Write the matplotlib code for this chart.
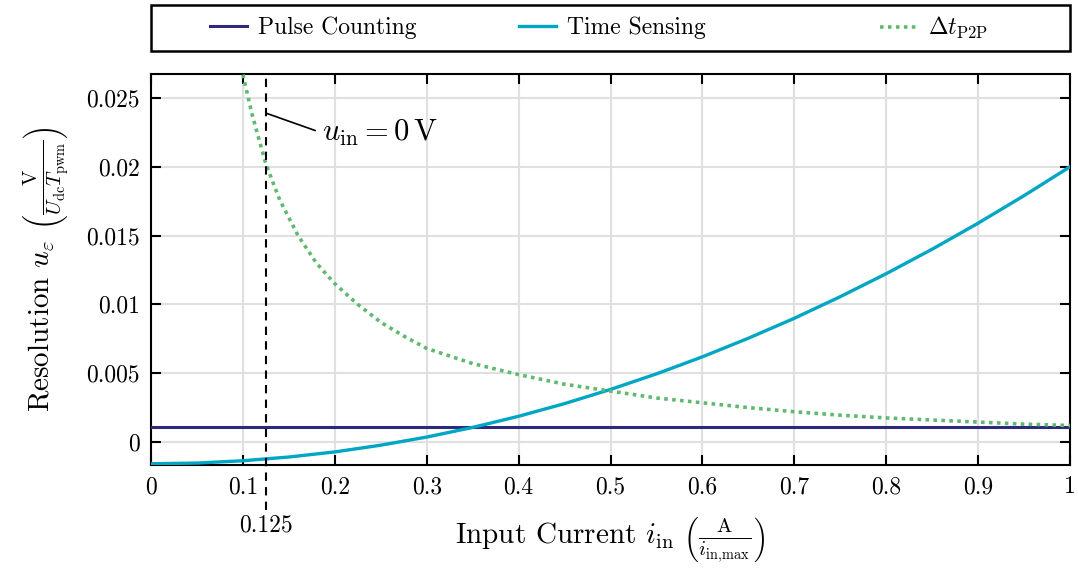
"""Resolution of pulse counting vs. time sensing over input current."""

import matplotlib

matplotlib.use("Agg")
import matplotlib.pyplot as plt
from matplotlib.lines import Line2D
from matplotlib.patches import Rectangle
from matplotlib.ticker import FuncFormatter, MultipleLocator

plt.rcParams["font.family"] = "serif"
plt.rcParams["font.serif"] = ["cmr10"]
plt.rcParams["mathtext.fontset"] = "cm"
plt.rcParams["axes.formatter.use_mathtext"] = True

# values
pulse_x = [0.0, 1.0]
pulse_y = [0.0011, 0.0011]

time_x = [0.0, 0.05, 0.1, 0.15, 0.2, 0.25, 0.3, 0.35, 0.4, 0.45, 0.5,
          0.55, 0.6, 0.65, 0.7, 0.75, 0.8, 0.85, 0.9, 0.95, 1.0]
time_y = [-0.00158, -0.00153, -0.00136, -0.00109, -0.00072, -0.00023,
          0.00036, 0.00106, 0.00187, 0.00279, 0.00382, 0.00495, 0.00619,
          0.00754, 0.00899, 0.01056, 0.01223, 0.01401, 0.01590, 0.01790,
          0.02000]

p2p_x = [0.1, 0.11, 0.125, 0.14, 0.16, 0.18, 0.2, 0.225, 0.25, 0.275, 0.3,
         0.35, 0.4, 0.45, 0.5, 0.55, 0.6, 0.65, 0.7, 0.75, 0.8, 0.85, 0.9,
         0.95, 1.0]
p2p_y = [0.0267, 0.0238, 0.0202, 0.0176, 0.0150, 0.0130, 0.0115, 0.0100,
         0.0087, 0.0077, 0.0068, 0.0057, 0.0049, 0.0042, 0.0037, 0.0032,
         0.00285, 0.0025, 0.0022, 0.00195, 0.00175, 0.0016, 0.00145, 0.0013,
         0.0012]

zero_voltage_x = 0.125

labels = ["Pulse Counting", "Time Sensing", r"$\Delta t_\mathrm{P2P}$"]
colors = ["#2d2a7c", "#00a6c4", "#5fba70"]
styles = ["-", "-", (0, (1, 1.2))]
widths = [2.2, 2.4, 2.6]
# left edge of each legend handle, in pixels
legend_px = [210, 519, 880]

W, H = 1078, 568
fig = plt.figure(figsize=(W / 100, H / 100), dpi=100)
ax = fig.add_axes([151 / W, 1 - 465 / H, 919 / W, 391 / H])

series = [(pulse_x, pulse_y), (time_x, time_y), (p2p_x, p2p_y)]
for (xs, ys), lab, c, ls, lw in zip(series, labels, colors, styles, widths):
    ax.plot(xs, ys, color=c, lw=lw, ls=ls, label=lab, zorder=3,
            solid_joinstyle="round")

ax.axvline(zero_voltage_x, ymin=-0.115, ymax=1, color="black", lw=1.5,
           ls=(0, (4, 3)), clip_on=False, zorder=4)
ax.text(zero_voltage_x, -0.155, "0.125", transform=ax.get_xaxis_transform(),
        ha="center", va="center", fontsize=17)
ax.annotate(r"$u_\mathrm{in} = 0\,\mathrm{V}$", xy=(zero_voltage_x, 0.0239),
            xytext=(0.186, 0.02246), ha="left", va="center", fontsize=22,
            arrowprops=dict(arrowstyle="-", color="black", lw=1.2,
                            shrinkA=3, shrinkB=0, relpos=(0, 0.5)))

ax.set_xlim(0, 1)
ax.set_ylim(-0.00167, 0.02674)
ax.xaxis.set_major_locator(MultipleLocator(0.1))
ax.yaxis.set_major_locator(MultipleLocator(0.005))
fmt = FuncFormatter(lambda v, _: f"{v:.3f}".rstrip("0").rstrip(".") if abs(v) > 1e-9 else "0")
ax.xaxis.set_major_formatter(fmt)
ax.yaxis.set_major_formatter(fmt)
ax.tick_params(direction="in", top=True, right=True, length=7, width=1.5,
               labelsize=17, pad=8)
for spine in ax.spines.values():
    spine.set_linewidth(1.5)
ax.grid(True, color="#e0e0e0", lw=1.5)
ax.set_axisbelow(True)

ax.set_xlabel(r"Input Current $i_\mathrm{in}$ $\left(\frac{\mathrm{A}}{i_\mathrm{in{,}max}}\right)$",
              fontsize=21, labelpad=12)
ax.set_ylabel(r"Resolution $u_\varepsilon$ $\left(\frac{\mathrm{V}}{U_\mathrm{dc}T_\mathrm{pwm}}\right)$",
              fontsize=21, labelpad=11)

# legend frame spanning the axes width, entries placed like the reference
fig.patches.append(Rectangle((151 / W, 1 - 51 / H), 919 / W, 46 / H,
                             transform=fig.transFigure, fill=False,
                             edgecolor="black", lw=1.8))
for lab, c, ls, lw, px in zip(labels, colors, styles, widths, legend_px):
    handle = Line2D([], [], color=c, ls=ls, lw=lw)
    fig.legend(handles=[handle], labels=[lab], loc="center left",
               bbox_to_anchor=(px / W, 1 - 28 / H), frameon=False,
               fontsize=17, handlelength=1.55, handletextpad=0.5,
               borderpad=0, borderaxespad=0)

fig.savefig("out.png", dpi=100)
